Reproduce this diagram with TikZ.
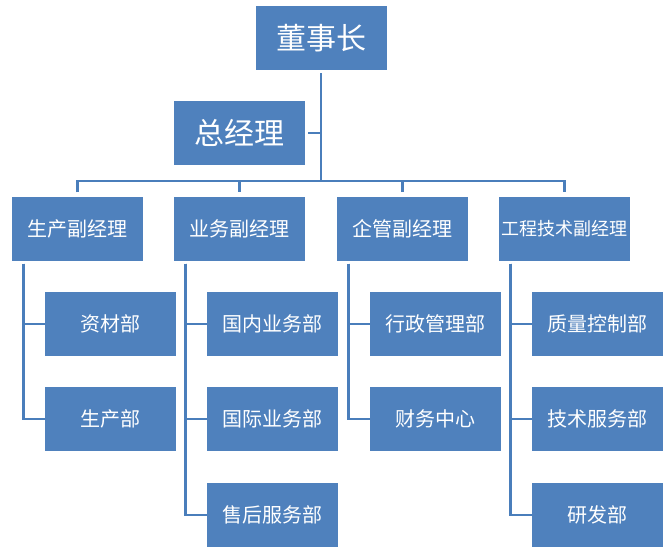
\documentclass[tikz,border=0pt]{standalone}
\usepackage{fontspec}
\newfontfamily\cjk{Noto Sans CJK SC}
\usepackage{tikz}
\definecolor{boxblue}{HTML}{4F81BD}
\definecolor{lineblue}{HTML}{4A7EBB}

\begin{document}
\begin{tikzpicture}[x=1pt, y=-1pt,
    block/.style={rectangle, fill=boxblue, text=white, font=\cjk\fontsize{20}{24}\selectfont,
                  minimum width=131pt, minimum height=64pt, inner sep=0pt}]
            \tikzset{bigblock/.style = {block, font=\cjk\fontsize{30}{34}\selectfont}}
            \tikzset{edge/.style = {draw=lineblue, line width=2.5pt}}

            \useasboundingbox (0,0) rectangle (672,557);

            % top levels
            \node[bigblock] (chair) at (321,38) {董事长};
            \node[bigblock] (gm) at (239.5,133) {总经理};
            \coordinate (bus) at (321,181);

            % vice managers
            \node[block] (vp1) at (77.5,228.5) {生产副经理};
            \node[block] (vp2) at (239.5,228.5) {业务副经理};
            \node[block] (vp3) at (402.5,228.5) {企管副经理};
            \node[block, font=\cjk\fontsize{18}{22}\selectfont] (vp4) at (564.5,228.5) {工程技术副经理};

            % departments
            \node[block] (d11) at (110.5,324) {资材部};
            \node[block] (d12) at (110.5,419) {生产部};
            \node[block] (d21) at (272.5,324) {国内业务部};
            \node[block] (d22) at (272.5,419) {国际业务部};
            \node[block] (d23) at (272.5,515) {售后服务部};
            \node[block] (d31) at (435.5,324) {行政管理部};
            \node[block] (d32) at (435.5,419) {财务中心};
            \node[block] (d41) at (597.5,324) {质量控制部};
            \node[block] (d42) at (597.5,419) {技术服务部};
            \node[block] (d43) at (597.5,515) {研发部};

            \draw [edge, shorten <=3pt] (chair.south) -- (chair.south |- bus);
            \draw [edge, shorten <=3pt] (gm.east) -- (gm.east -| bus);
            \draw [edge, shorten <=4pt, shorten >=4pt] (vp1.north) |- (bus) -| (vp4.north);
            \draw [edge, shorten >=4pt] (vp2.north |- bus) -- (vp2.north);
            \draw [edge, shorten >=4pt] (vp3.north |- bus) -- (vp3.north);

            \draw [edge, shorten <=3pt] ([xshift=11.5pt]vp1.south west) |- (d11.west);
            \draw [edge, shorten <=3pt] ([xshift=11.5pt]vp1.south west) |- (d12.west);
            \draw [edge, shorten <=3pt] ([xshift=11.5pt]vp2.south west) |- (d21.west);
            \draw [edge, shorten <=3pt] ([xshift=11.5pt]vp2.south west) |- (d22.west);
            \draw [edge, shorten <=3pt] ([xshift=11.5pt]vp2.south west) |- (d23.west);
            \draw [edge, shorten <=3pt] ([xshift=11.5pt]vp3.south west) |- (d31.west);
            \draw [edge, shorten <=3pt] ([xshift=11.5pt]vp3.south west) |- (d32.west);
            \draw [edge, shorten <=3pt] ([xshift=11.5pt]vp4.south west) |- (d41.west);
            \draw [edge, shorten <=3pt] ([xshift=11.5pt]vp4.south west) |- (d42.west);
            \draw [edge, shorten <=3pt] ([xshift=11.5pt]vp4.south west) |- (d43.west);

\end{tikzpicture}
\end{document}
